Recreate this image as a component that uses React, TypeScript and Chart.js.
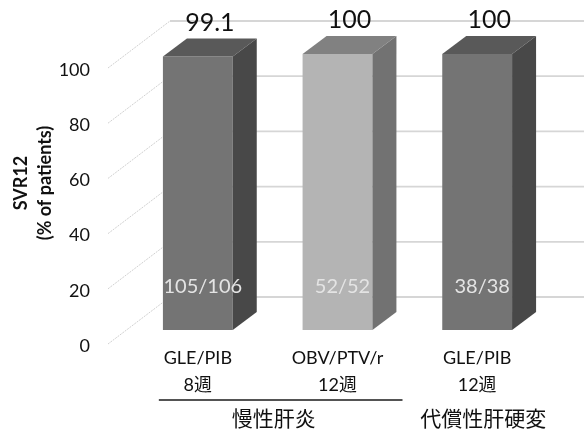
import React, { useEffect, useRef } from "react";
import { Chart, registerables } from "chart.js";

Chart.register(...registerables);

// ---- data ----
const categories: string[][] = [
  ["GLE/PIB", "8週"],
  ["OBV/PTV/r", "12週"],
  ["GLE/PIB", "12週"],
];
const svrValues: number[] = [99.1, 100, 100];
const valueLabels: string[] = ["99.1", "100", "100"];
const countLabels: string[] = ["105/106", "52/52", "38/38"];
const groupNames: string[] = ["慢性肝炎", "代償性肝硬変"];
const groupFirst: number[] = [0, 2];
const groupLast: number[] = [1, 2];
const groupUnderline: boolean[] = [true, false];
const yTickValues: number[] = [0, 20, 40, 60, 80, 100];
const yTitleLines: string[] = ["SVR12", "(% of patients)"];

// ---- styles ----
const frontColors = ["#747474", "#b4b4b4", "#747474"];
const topColors = ["#595959", "#818181", "#595959"];
const sideColors = ["#484848", "#727272", "#484848"];
const LATIN = "Lato, 'Noto Sans CJK JP', sans-serif";
const CJK = "'Noto Sans CJK JP', sans-serif";
const TEXT = "#111111";

const DEPTH_X = 24;
const DEPTH_Y = -18;
const WALL_FRONT_X = 108;
const BACK_X = 170;
const BACK_DY = -33;
const FLOOR_DY = 14;

const threeD = {
  id: "threeD",
  beforeDatasetsDraw(chart: any) {
    const ctx = chart.ctx as CanvasRenderingContext2D;
    const ys = chart.scales.y;
    const W = chart.width;
    ctx.save();
    yTickValues.forEach((v) => {
      const p = ys.getPixelForValue(v);
      ctx.strokeStyle = "#d6d6d6";
      ctx.lineWidth = 1.8;
      ctx.beginPath();
      ctx.moveTo(BACK_X, p + BACK_DY);
      ctx.lineTo(W, p + BACK_DY);
      ctx.stroke();
      ctx.strokeStyle = "#d0d0d0";
      ctx.lineWidth = 1;
      ctx.setLineDash([2, 1]);
      ctx.beginPath();
      ctx.moveTo(WALL_FRONT_X, p + FLOOR_DY);
      ctx.lineTo(BACK_X, p + BACK_DY);
      ctx.stroke();
      ctx.setLineDash([]);
    });
    ctx.restore();
  },
  afterDatasetsDraw(chart: any) {
    const ctx = chart.ctx as CanvasRenderingContext2D;
    const meta = chart.getDatasetMeta(0);
    const xs = chart.scales.x;
    ctx.save();
    meta.data.forEach((bar: any, i: number) => {
      const { x, y, base, width } = bar.getProps(["x", "y", "base", "width"], true);
      const xl = x - width / 2;
      const xr = x + width / 2;
      // top face
      ctx.fillStyle = topColors[i];
      ctx.beginPath();
      ctx.moveTo(xl, y);
      ctx.lineTo(xr, y);
      ctx.lineTo(xr + DEPTH_X, y + DEPTH_Y);
      ctx.lineTo(xl + DEPTH_X, y + DEPTH_Y);
      ctx.closePath();
      ctx.fill();
      // side face
      ctx.fillStyle = sideColors[i];
      ctx.beginPath();
      ctx.moveTo(xr, y);
      ctx.lineTo(xr + DEPTH_X, y + DEPTH_Y);
      ctx.lineTo(xr + DEPTH_X, base + DEPTH_Y);
      ctx.lineTo(xr, base);
      ctx.closePath();
      ctx.fill();
      // value label
      ctx.fillStyle = "#111111";
      ctx.font = `25px ${LATIN}`;
      ctx.textAlign = "center";
      ctx.textBaseline = "middle";
      ctx.fillText(valueLabels[i], x + DEPTH_X / 2, y + DEPTH_Y - 16);
      // count label
      ctx.fillStyle = "#e4e4e4";
      ctx.font = `20px ${LATIN}`;
      ctx.fillText(countLabels[i], x + 5, base - 43);
    });

    // group labels
    const lineY = 400;
    groupNames.forEach((name, g) => {
      const a = xs.getPixelForValue(groupFirst[g]);
      const b = xs.getPixelForValue(groupLast[g]);
      if (groupUnderline[g]) {
        ctx.strokeStyle = "#1a1a1a";
        ctx.lineWidth = 1.5;
        ctx.beginPath();
        ctx.moveTo(a - 39, lineY);
        ctx.lineTo(b + 65, lineY);
        ctx.stroke();
      }
      ctx.fillStyle = TEXT;
      ctx.font = `21px ${CJK}`;
      ctx.textAlign = "center";
      ctx.textBaseline = "middle";
      ctx.fillText(name, (a + b) / 2 + 6, 418);
    });

    // y title
    ctx.fillStyle = TEXT;
    ctx.font = `bold 18px ${LATIN}`;
    ctx.textAlign = "center";
    ctx.textBaseline = "middle";
    const titleX = [21, 45];
    yTitleLines.forEach((t, k) => {
      ctx.save();
      ctx.translate(titleX[k], 183);
      ctx.rotate(-Math.PI / 2);
      ctx.fillText(t, 0, 0);
      ctx.restore();
    });
    ctx.restore();
  },
};

export default function App() {
  const ref = useRef<HTMLCanvasElement | null>(null);
  useEffect(() => {
    if (!ref.current) return;
    const chart = new Chart(ref.current, {
      type: "bar",
      data: {
        labels: categories,
        datasets: [
          {
            data: svrValues,
            backgroundColor: frontColors,
            borderWidth: 0,
            barPercentage: 0.5,
            categoryPercentage: 1,
          },
        ],
      },
      options: {
        responsive: false,
        animation: false,
        devicePixelRatio: 1,
        layout: { padding: { top: 54, right: 37, bottom: 0, left: 0 } },
        plugins: { legend: { display: false }, tooltip: { enabled: false } },
        scales: {
          x: {
            grid: { display: false, drawTicks: false },
            border: { display: false },
            ticks: {
              color: TEXT,
              font: { family: LATIN, size: 18, lineHeight: 1.5 },
              padding: 15,
              maxRotation: 0,
              autoSkip: false,
            },
            afterFit: (s: any) => {
              s.height = 100;
            },
          },
          y: {
            min: 0,
            max: 100,
            grid: { display: false, drawTicks: false },
            border: { display: false },
            ticks: {
              stepSize: 20,
              color: TEXT,
              font: { family: LATIN, size: 18 },
              padding: 38,
              labelOffset: 16,
            },
            afterFit: (s: any) => {
              s.width = 128;
            },
          },
        },
      },
      plugins: [threeD],
    });
    return () => chart.destroy();
  }, []);
  return (
    <div style={{ position: "absolute", left: 0, top: 0, width: 584, height: 430, background: "#fff" }}>
      <canvas ref={ref} width={584} height={430} />
    </div>
  );
}
